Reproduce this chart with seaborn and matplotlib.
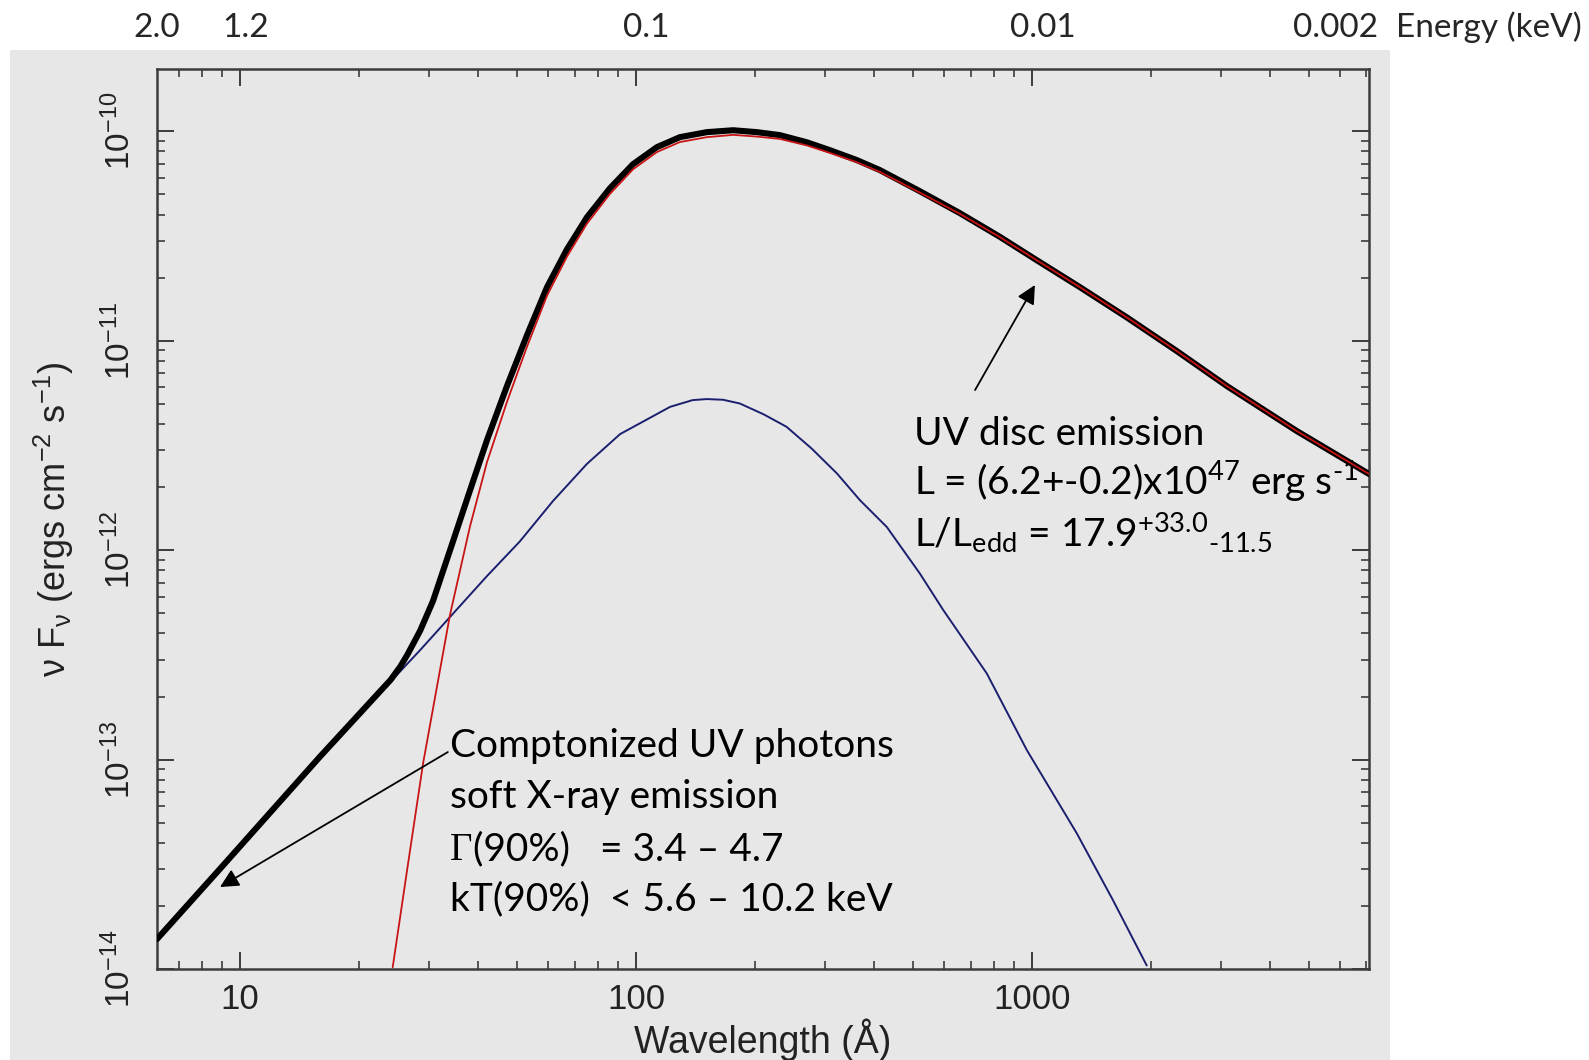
import matplotlib
matplotlib.use("Agg")
import matplotlib.pyplot as plt
import matplotlib.transforms as mtransforms
from matplotlib.patches import Rectangle
from matplotlib.ticker import LogLocator, NullFormatter
import pandas as pd
import seaborn as sns

# ---- spectral model components (wavelength in Angstrom, nu F_nu in erg cm^-2 s^-1) ----
total_wave = [6.17, 8.89, 15.9, 24.0, 25.4, 26.5, 28.5, 30.7, 34.5, 38.1, 42.05, 47.23,
              53.05, 59.62, 66.96, 75.2, 85.98, 98.26, 113, 129.1, 151, 176, 202, 231,
              270, 309, 361, 413, 521, 658, 830, 1029, 1322, 1738, 2324, 3108, 4669,
              7100]
total_flux = [1.39e-14, 3.0e-14, 1.03e-13, 2.40e-13, 2.78e-13, 3.18e-13, 4.12e-13,
              5.70e-13, 1.10e-12, 1.93e-12, 3.35e-12, 6.07e-12, 1.06e-11, 1.80e-11,
              2.73e-11, 3.88e-11, 5.34e-11, 6.95e-11, 8.39e-11, 9.36e-11, 9.89e-11,
              1.01e-10, 9.89e-11, 9.57e-11, 8.85e-11, 8.11e-11, 7.28e-11, 6.52e-11,
              5.17e-11, 4.06e-11, 3.13e-11, 2.42e-11, 1.80e-11, 1.29e-11, 8.91e-12,
              6.07e-12, 3.70e-12, 2.31e-12]

disc_wave = [24.3, 26.5, 29.0, 33.9, 38.1, 42.05, 47.23, 53.05, 59.62, 66.96, 75.2,
             85.98, 98.26, 113, 129.1, 151, 176, 202, 231, 270, 309, 361, 413, 521,
             658, 830, 1029, 1322, 1738, 2324, 3108, 4669, 7100]
disc_flux = [1.02e-14, 3.08e-14, 9.6e-14, 4.9e-13, 1.30e-12, 2.63e-12, 5.1e-12,
             9.35e-12, 1.64e-11, 2.52e-11, 3.62e-11, 5.02e-11, 6.57e-11, 7.95e-11,
             8.87e-11, 9.36e-11, 9.6e-11, 9.42e-11, 9.18e-11, 8.55e-11, 7.87e-11,
             7.11e-11, 6.39e-11, 5.09e-11, 4.03e-11, 3.12e-11, 2.42e-11, 1.80e-11,
             1.29e-11, 8.91e-12, 6.07e-12, 3.70e-12, 2.31e-12]

compton_wave = [6.17, 8.89, 15.9, 25.4, 28.5, 33.9, 42.0, 50.9, 61.8, 75.2, 91.2,
                122, 139, 151, 166, 183, 210, 240, 278, 322, 368, 430, 521, 597, 769,
                971, 1298, 1603, 1950]
compton_flux = [1.39e-14, 3.0e-14, 1.03e-13, 2.64e-13, 3.33e-13, 4.79e-13, 7.5e-13,
                1.10e-12, 1.72e-12, 2.58e-12, 3.58e-12, 4.83e-12, 5.20e-12, 5.26e-12,
                5.22e-12, 5.01e-12, 4.45e-12, 3.88e-12, 3.05e-12, 2.32e-12, 1.73e-12,
                1.29e-12, 7.74e-13, 5.18e-13, 2.58e-13, 1.11e-13, 4.45e-14, 2.13e-14,
                1.04e-14]

x_tick_values = [10, 100, 1000]
x_tick_labels = ["10", "100", "1000"]
y_tick_values = [1e-14, 1e-13, 1e-12, 1e-11, 1e-10]

# energy scale written along the top (label, wavelength it sits over)
energy_labels = ["2.0", "1.2", "0.1", "0.01", "0.002"]
energy_label_wave = [6.17, 10.35, 106, 1067, 5861]

BG = "#e7e7e7"
AXC = "#3c3c3c"
TXT = "#222222"

sns.set_style("ticks")
plt.rcParams.update({
    "font.family": ["Liberation Sans", "DejaVu Sans"],
    "mathtext.fontset": "custom",
    "mathtext.rm": "Lato",
    "mathtext.default": "regular",
    "axes.facecolor": BG,
    "axes.edgecolor": AXC,
    "axes.linewidth": 1.8,
    "xtick.color": AXC,
    "ytick.color": AXC,
    "xtick.labelcolor": TXT,
    "ytick.labelcolor": TXT,
})

fig = plt.figure(figsize=(15.89, 10.60), dpi=100)
fig.add_artist(Rectangle((0.0063, 0.0), 0.8685, 0.9528, transform=fig.transFigure,
                         facecolor=BG, edgecolor="none", zorder=-5))
ax = fig.add_axes([0.0988, 0.0858, 0.7627, 0.8491])

df_total = pd.DataFrame({"wave": total_wave, "flux": total_flux})
df_disc = pd.DataFrame({"wave": disc_wave, "flux": disc_flux})
df_comp = pd.DataFrame({"wave": compton_wave, "flux": compton_flux})

sns.lineplot(data=df_total, x="wave", y="flux", ax=ax, color="black", linewidth=4.4,
             estimator=None, sort=False, zorder=3)
sns.lineplot(data=df_disc, x="wave", y="flux", ax=ax, color="#c81414", linewidth=1.3,
             estimator=None, sort=False, zorder=4)
sns.lineplot(data=df_comp, x="wave", y="flux", ax=ax, color="#1b1f6e", linewidth=1.4,
             estimator=None, sort=False, zorder=2)

ax.set_xscale("log")
ax.set_yscale("log")
ax.set_xlim(6.17, 7100)
ax.set_ylim(1e-14, 1.98e-10)

ax.set_xticks(x_tick_values)
ax.set_xticklabels(x_tick_labels)
ax.xaxis.set_minor_locator(LogLocator(base=10, subs=range(2, 10), numticks=20))
ax.xaxis.set_minor_formatter(NullFormatter())
ax.set_yticks(y_tick_values)
ax.yaxis.set_minor_locator(LogLocator(base=10, subs=range(2, 10), numticks=20))
ax.yaxis.set_minor_formatter(NullFormatter())

ax.tick_params(which="both", direction="in", top=True, right=True)
ax.tick_params(which="major", length=12, width=1.4)
ax.tick_params(which="minor", length=5.5, width=1.2)
ax.tick_params(axis="x", which="major", labelsize=25, pad=10)
ax.tick_params(axis="y", which="major", labelsize=24, pad=14, labelrotation=90)
for lbl in ax.get_yticklabels():
    lbl.set_va("center")

ax.set_xlabel("Wavelength (Å)", fontsize=27, color=TXT)
ax.xaxis.set_label_coords(0.5, -0.055)
ax.set_ylabel("ν F$_{ν}$ (ergs cm$^{-2}$ s$^{-1}$)", fontsize=26, color=TXT)
ax.yaxis.set_label_coords(-0.0668, 0.5)

# energy scale along the top
trans = mtransforms.blended_transform_factory(ax.transData, fig.transFigure)
for lab, w in zip(energy_labels, energy_label_wave):
    ax.text(w, 0.965, lab, transform=trans, ha="center", va="baseline",
            fontsize=24, family=["Lato", "DejaVu Sans"], clip_on=False)
fig.text(0.8785, 0.965, "Energy (keV)", ha="left", va="baseline", fontsize=24,
         family=["Lato", "DejaVu Sans"])

# annotations
tfont = dict(fontsize=28, family=["Lato", "DejaVu Sans"], color="black")
ax.annotate("", xy=(0.052, 0.0911), xytext=(0.240, 0.2411), xycoords="axes fraction",
            arrowprops=dict(arrowstyle="-|>", color="black", lw=1.3, mutation_scale=28,
                            shrinkA=0, shrinkB=0), zorder=6)
ax.annotate("", xy=(0.7244, 0.760), xytext=(0.675, 0.6433), xycoords="axes fraction",
            arrowprops=dict(arrowstyle="-|>", color="black", lw=1.3, mutation_scale=28,
                            shrinkA=0, shrinkB=0), zorder=6)

x_left = 0.2418
ax.text(x_left, 0.2356, "Comptonized UV photons", transform=ax.transAxes,
        va="baseline", ha="left", **tfont)
ax.text(x_left, 0.1789, "soft X-ray emission", transform=ax.transAxes,
        va="baseline", ha="left", **tfont)
ax.text(x_left, 0.1211, "Γ", transform=ax.transAxes, va="baseline", ha="left",
        fontsize=28, family="Liberation Serif", color="black")
ax.text(x_left + 0.0188, 0.1211, "(90%)   = 3.4 – 4.7", transform=ax.transAxes,
        va="baseline", ha="left", **tfont)
ax.text(x_left, 0.0656, "kT(90%)  < 5.6 – 10.2 keV", transform=ax.transAxes,
        va="baseline", ha="left", **tfont)

x_uv = 0.625
ax.text(x_uv, 0.5822, "UV disc emission", transform=ax.transAxes,
        va="baseline", ha="left", **tfont)
ax.text(x_uv, 0.5267, r"L = (6.2+-0.2)x10$^{47}$ erg s$^{\text{-1}}$",
        transform=ax.transAxes, va="baseline", ha="left", **tfont)
ax.text(x_uv, 0.4689, r"L/L$_{\text{edd}}$ = 17.9$^{\text{+33.0}}{}_{\text{-11.5}}$",
        transform=ax.transAxes, va="baseline", ha="left", **tfont)

fig.savefig("out.png", dpi=100)
